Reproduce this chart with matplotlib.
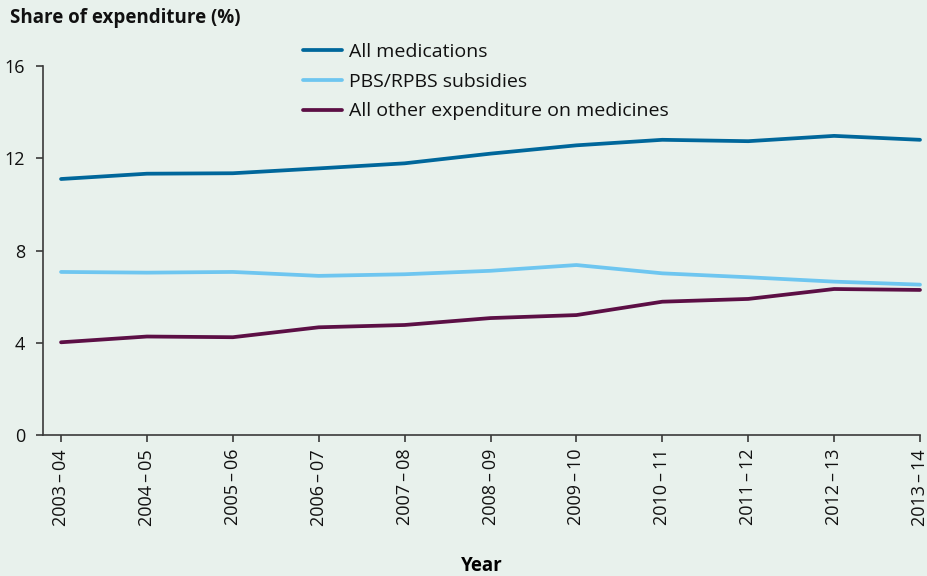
import matplotlib.pyplot as plt

# data
years = ["2003\u2009–\u200904", "2004\u2009–\u200905", "2005\u2009–\u200906",
         "2006\u2009–\u200907", "2007\u2009–\u200908", "2008\u2009–\u200909",
         "2009\u2009–\u200910", "2010\u2009–\u200911", "2011\u2009–\u200912",
         "2012\u2009–\u200913", "2013\u2009–\u200914"]
all_medications = [11.10, 11.33, 11.35, 11.56, 11.78, 12.20, 12.56, 12.80, 12.74, 12.97, 12.80]
pbs_rpbs = [7.07, 7.04, 7.07, 6.90, 6.97, 7.12, 7.37, 7.01, 6.84, 6.65, 6.52]
other_medicines = [4.02, 4.27, 4.24, 4.67, 4.77, 5.07, 5.20, 5.78, 5.90, 6.33, 6.29]

bg = "#e8f1ec"
axis_col = "#3a3a3a"
plt.rcParams["font.family"] = ["Open Sans", "DejaVu Sans"]

fig = plt.figure(figsize=(9.28, 5.76), dpi=100, facecolor=bg)
ax = fig.add_axes([43 / 928, 1 - 435 / 576, (920 - 43) / 928, (435 - 66) / 576])
ax.set_facecolor(bg)

x = list(range(len(years)))
ax.plot(x, all_medications, color="#00679b", lw=2.7, label="All medications",
        solid_capstyle="round", clip_on=False)
ax.plot(x, pbs_rpbs, color="#6ec6f0", lw=2.7, label="PBS/RPBS subsidies",
        solid_capstyle="round", clip_on=False)
ax.plot(x, other_medicines, color="#5c0f45", lw=2.7, label="All other expenditure on medicines",
        solid_capstyle="round", clip_on=False)

ax.set_xlim(-0.21, 10)
ax.set_ylim(0, 16)
ax.set_yticks([0, 4, 8, 12, 16])
ax.set_xticks(x)
ax.set_xticklabels(years, rotation=90)

for s in ["top", "right"]:
    ax.spines[s].set_visible(False)
for s in ["left", "bottom"]:
    ax.spines[s].set_color(axis_col)
    ax.spines[s].set_linewidth(1.2)
ax.tick_params(axis="both", color=axis_col, width=1.2, length=5, labelsize=13,
               labelcolor="#111111")
ax.tick_params(axis="y", pad=8)
ax.tick_params(axis="x", pad=5)

ax.set_xlabel("Year", fontsize=13.5, fontweight="bold", labelpad=22)
fig.text(10 / 928, 1 - 18 / 576, "Share of expenditure (%)", fontsize=13.5,
         fontweight="bold", va="center", ha="left", color="#111111")

leg = ax.legend(loc="upper left", bbox_to_anchor=(303 / 928, 1 - 43 / 576),
                bbox_transform=fig.transFigure, frameon=False, fontsize=14,
                handlelength=2.0, handletextpad=0.38, labelspacing=0.6,
                borderaxespad=0, borderpad=0)
for t in leg.get_texts():
    t.set_color("#111111")

fig.savefig("out.png", dpi=100, facecolor=bg)
